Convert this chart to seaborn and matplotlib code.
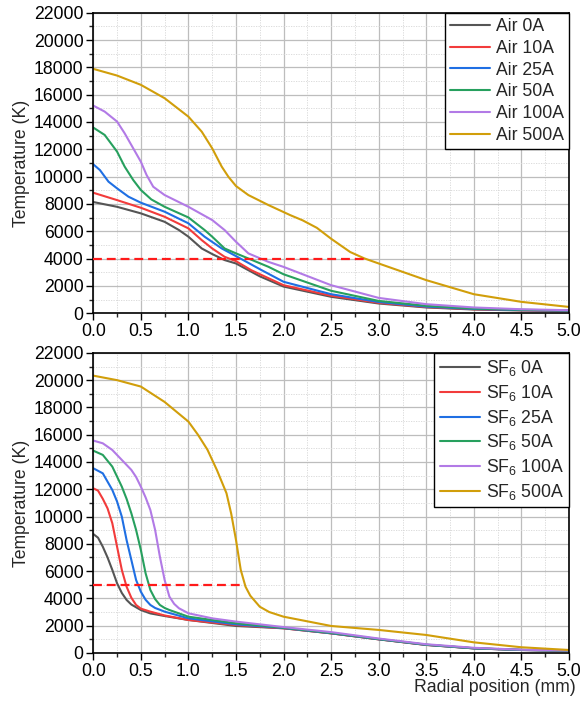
import numpy as np
import pandas as pd
import matplotlib
matplotlib.use("Agg")
import matplotlib.pyplot as plt
import seaborn as sns
from matplotlib.ticker import MultipleLocator

# ---------------- data ----------------
air_labels = ["Air 0A", "Air 10A", "Air 25A", "Air 50A", "Air 100A", "Air 500A"]
sf6_labels = ["SF$_6$ 0A", "SF$_6$ 10A", "SF$_6$ 25A", "SF$_6$ 50A", "SF$_6$ 100A", "SF$_6$ 500A"]

air0_x = [0, 0.25, 0.5, 0.75, 0.9, 1.0, 1.14, 1.25, 1.38, 1.5, 1.63, 1.75, 2.0, 2.5, 3.0, 3.5, 4.0, 4.5, 5.0]
air0_y = [8140, 7790, 7310, 6690, 6090, 5600, 4740, 4330, 3890, 3640, 3150, 2700, 1950, 1200, 710, 420, 270, 200, 170]
air10_x = [0, 0.25, 0.5, 0.75, 1.0, 1.14, 1.25, 1.38, 1.5, 1.66, 2.0, 2.5, 3.0, 3.5, 4.0, 4.5, 5.0]
air10_y = [8820, 8280, 7720, 7060, 6210, 5350, 4740, 4130, 3810, 3150, 2050, 1280, 760, 450, 290, 220, 180]
air25_x = [0, 0.07, 0.16, 0.25, 0.37, 0.5, 0.75, 1.0, 1.17, 1.35, 1.5, 1.77, 2.0, 2.5, 3.0, 3.5, 4.0, 4.5, 5.0]
air25_y = [10900, 10480, 9630, 9140, 8530, 8090, 7430, 6580, 5600, 4740, 4180, 3150, 2300, 1390, 820, 480, 310, 230, 190]
air50_x = [0, 0.12, 0.25, 0.33, 0.42, 0.5, 0.61, 0.75, 1.0, 1.17, 1.25, 1.38, 1.5, 1.84, 2.0, 2.5, 3.0, 3.5, 4.0, 4.5, 5.0]
air50_y = [13590, 13050, 11830, 10730, 9750, 9020, 8330, 7790, 7010, 6090, 5600, 4740, 4380, 3400, 2850, 1640, 900, 540, 340, 250, 200]
air100_x = [0, 0.12, 0.25, 0.33, 0.42, 0.5, 0.56, 0.63, 0.75, 1.0, 1.25, 1.38, 1.5, 1.63, 1.84, 2.0, 2.5, 3.0, 3.5, 4.0, 4.5, 5.0]
air100_y = [15200, 14760, 14030, 13170, 12070, 11090, 10120, 9260, 8650, 7790, 6820, 6090, 5230, 4380, 3760, 3390, 2050, 1120, 660, 420, 290, 220]
air500_x = [0, 0.25, 0.5, 0.75, 1.0, 1.14, 1.25, 1.35, 1.42, 1.5, 1.63, 1.84, 2.07, 2.2, 2.35, 2.5, 2.7, 2.85, 3.0, 3.5, 4.0, 4.5, 5.0]
air500_y = [17890, 17400, 16720, 15740, 14390, 13290, 12070, 10730, 9990, 9310, 8650, 7920, 7180, 6800, 6250, 5450, 4480, 4010, 3640, 2420, 1390, 830, 460]

sf0_x = [0, 0.05, 0.1, 0.15, 0.2, 0.25, 0.3, 0.35, 0.4, 0.5, 0.6, 0.75, 1.0, 1.5, 2.0, 2.5, 3.0, 3.5, 4.0, 4.5, 5.0]
sf0_y = [8720, 8450, 7790, 7000, 6090, 5110, 4400, 3890, 3550, 3150, 2900, 2710, 2420, 1980, 1810, 1440, 1000, 590, 340, 220, 170]
sf10_x = [0, 0.05, 0.1, 0.15, 0.2, 0.25, 0.3, 0.35, 0.4, 0.45, 0.5, 0.6, 0.75, 1.0, 1.5, 2.0, 2.5, 3.0, 3.5, 4.0, 4.5, 5.0]
sf10_y = [12070, 11900, 11300, 10600, 9510, 7790, 6090, 4860, 4050, 3520, 3250, 3030, 2750, 2420, 2050, 1810, 1440, 1000, 590, 340, 220, 170]
sf25_x = [0, 0.1, 0.2, 0.25, 0.3, 0.35, 0.4, 0.45, 0.5, 0.55, 0.6, 0.65, 0.75, 1.0, 1.5, 2.0, 2.5, 3.0, 3.5, 4.0, 4.5, 5.0]
sf25_y = [13540, 13170, 11950, 11100, 9990, 8280, 6820, 5350, 4490, 3900, 3520, 3300, 3030, 2540, 2100, 1830, 1450, 1010, 600, 340, 220, 170]
sf50_x = [0, 0.1, 0.2, 0.3, 0.35, 0.4, 0.45, 0.5, 0.55, 0.6, 0.65, 0.7, 0.75, 0.8, 1.0, 1.5, 2.0, 2.5, 3.0, 3.5, 4.0, 4.5, 5.0]
sf50_y = [14830, 14520, 13660, 12190, 11300, 10240, 9020, 7550, 5840, 4620, 3950, 3520, 3300, 3150, 2660, 2180, 1850, 1470, 1020, 610, 350, 230, 170]
sf100_x = [0, 0.1, 0.2, 0.3, 0.4, 0.45, 0.5, 0.55, 0.6, 0.65, 0.7, 0.75, 0.8, 0.85, 0.9, 1.0, 1.25, 1.5, 2.0, 2.5, 3.0, 3.5, 4.0, 4.5, 5.0]
sf100_y = [15570, 15370, 14880, 14150, 13420, 12900, 12190, 11400, 10480, 9020, 7060, 5350, 4130, 3600, 3280, 2910, 2540, 2300, 1900, 1530, 1060, 640, 380, 240, 180]
sf500_x = [0, 0.25, 0.5, 0.75, 1.0, 1.1, 1.2, 1.3, 1.4, 1.45, 1.5, 1.55, 1.6, 1.65, 1.75, 1.85, 2.0, 2.5, 3.0, 3.5, 4.0, 4.5, 5.0]
sf500_y = [20330, 20000, 19530, 18400, 16960, 16000, 14900, 13400, 11710, 10200, 8280, 6090, 4860, 4200, 3390, 3000, 2660, 1980, 1690, 1320, 780, 420, 220]

air_thr_x = [0, 2.85]
air_thr_y = [4000, 4000]
sf6_thr_x = [0, 1.58]
sf6_thr_y = [5000, 5000]

x_ticks = [0.0, 0.5, 1.0, 1.5, 2.0, 2.5, 3.0, 3.5, 4.0, 4.5, 5.0]
y_ticks = [0, 2000, 4000, 6000, 8000, 10000, 12000, 14000, 16000, 18000, 20000, 22000]

colors = ["#555555", "#f23b3b", "#1f6fe3", "#27a05e", "#b27ae6", "#d19e0a"]

# ---------------- styling ----------------
sns.set_theme(style="ticks")
plt.rcParams["font.family"] = ["Liberation Sans", "DejaVu Sans"]
plt.rcParams["mathtext.fontset"] = "custom"
plt.rcParams["mathtext.rm"] = "Liberation Sans"
plt.rcParams["mathtext.it"] = "Liberation Sans:italic"
plt.rcParams["mathtext.bf"] = "Liberation Sans:bold"

FS = 12.7


def build_df(labels, xs, ys):
    frames = []
    for lab, x, y in zip(labels, xs, ys):
        frames.append(pd.DataFrame({"r": x, "T": y, "series": lab}))
    return pd.concat(frames, ignore_index=True)


air_df = build_df(air_labels,
                  [air0_x, air10_x, air25_x, air50_x, air100_x, air500_x],
                  [air0_y, air10_y, air25_y, air50_y, air100_y, air500_y])
sf6_df = build_df(sf6_labels,
                  [sf0_x, sf10_x, sf25_x, sf50_x, sf100_x, sf500_x],
                  [sf0_y, sf10_y, sf25_y, sf50_y, sf100_y, sf500_y])

fig = plt.figure(figsize=(5.83, 7.07), dpi=100)
ax1 = fig.add_axes([0.160, 0.557, 0.816, 0.425])
ax2 = fig.add_axes([0.160, 0.0764, 0.816, 0.4245])

for ax, df, labels, tx, ty in [(ax1, air_df, air_labels, air_thr_x, air_thr_y),
                                (ax2, sf6_df, sf6_labels, sf6_thr_x, sf6_thr_y)]:
    sns.lineplot(data=df, x="r", y="T", hue="series", hue_order=labels,
                 palette=colors, linewidth=1.5, ax=ax, sort=False,
                 estimator=None)
    ax.plot(tx, ty, color="#ff1a1a", linestyle=(0, (4, 2.2)), linewidth=1.6, zorder=3)

    ax.set_xlim(0, 5)
    ax.set_ylim(0, 22000)
    ax.set_xticks(x_ticks)
    ax.set_xticklabels([f"{v:.1f}" for v in x_ticks])
    ax.set_yticks(y_ticks)
    ax.set_yticklabels([str(v) for v in y_ticks])
    ax.xaxis.set_minor_locator(MultipleLocator(0.25))
    ax.yaxis.set_minor_locator(MultipleLocator(1000))
    ax.tick_params(which="major", direction="out", length=5, width=1,
                   labelsize=FS, colors="black", pad=2)
    ax.tick_params(which="minor", direction="out", length=3, width=1)
    ax.grid(True, which="major", color="#bdbdbd", linewidth=0.9, linestyle="-")
    ax.grid(True, which="minor", color="#d6d6d6", linewidth=0.6, linestyle=(0, (1.5, 1.5)))
    ax.set_axisbelow(True)
    for s in ax.spines.values():
        s.set_visible(True)
        s.set_color("black")
        s.set_linewidth(1.2)
    ax.set_ylabel("Temperature (K)", fontsize=FS, labelpad=3)
    ax.set_xlabel("")

    leg = ax.legend(loc="upper right", borderaxespad=0, fontsize=FS,
                    frameon=True, fancybox=False, handlelength=2.3,
                    handletextpad=0.3, labelspacing=0.27, borderpad=0.3)
    leg.get_frame().set_edgecolor("black")
    leg.get_frame().set_linewidth(1.0)
    leg.get_frame().set_alpha(1)

ax2.set_xlabel("Radial position (mm)", fontsize=FS, labelpad=2)
ax2.xaxis.set_label_coords(1.015, -0.088)
ax2.xaxis.label.set_horizontalalignment("right")

fig.savefig("out.png", dpi=100)
